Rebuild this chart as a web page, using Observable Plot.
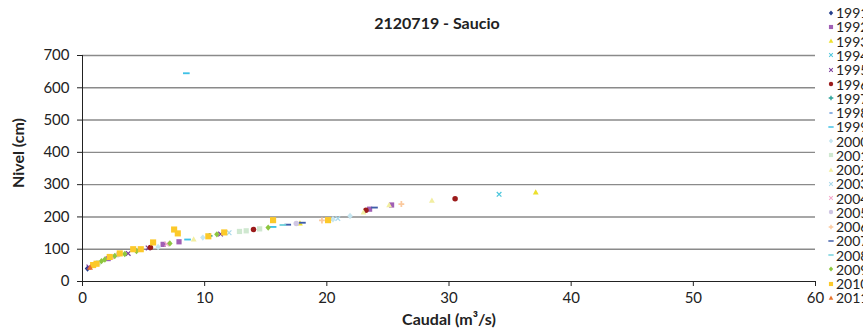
<!DOCTYPE html>
<html><head><meta charset="utf-8">
<script src="https://cdn.jsdelivr.net/npm/d3@7"></script>
<script src="https://cdn.jsdelivr.net/npm/@observablehq/plot@0.6"></script>
<style>
html,body{margin:0;padding:0;background:#fff;overflow:hidden;}
#wrap{position:relative;width:863px;height:336px;font-family:Lato,"Open Sans",sans-serif;color:#222;}
.lbl{position:absolute;font-weight:bold;white-space:nowrap;}
#legend{position:absolute;left:826px;top:0;font-size:14px;line-height:13px;}
.row{position:absolute;left:0;height:13px;white-space:nowrap;display:flex;align-items:center;}
</style></head><body><div id="wrap"></div>
<script>
const title = "2120719 - Saucio";
const xLabel = "Caudal (m³/s)";
const yLabel = "Nivel (cm)";
const xTicks = [0, 10, 20, 30, 40, 50, 60];
const yTicks = [0, 100, 200, 300, 400, 500, 600, 700];
const years = ["1991","1992","1993","1994","1995","1996","1997","1998","1999","2000","2001","2002","2003","2004","2005","2006","2007","2008","2009","2010","2011"];
const colors = ["#243e8c","#a05fb5","#ece02c","#4cc6dc","#7a3c9a","#9b1b1b","#2aa198","#5a8fd6","#3ec1e6","#c5e6f1","#cfe8d0","#f2eea0","#a8d8ea","#f4a7c9","#cfc6e3","#fbc99e","#3e5ca8","#72d1dc","#8dc63f","#fcc92a","#e8722a"];
const shapes = ["diamond","square","triangle","x","x","circle","plus","shortdash","dash","diamond","square","triangle","x","x","circle","plus","dash","dash","diamond","square","triangle"];

// data (parallel arrays)
const anio = [
"1991","1995","2001","2011",
"2010","2010","2010","2010","2010","2010","2010","2010","2010","2010","2010","2010",
"2009","2009","2009","2009","2009","2009","2009","2009",
"1992","1992","1992","1992","1992",
"1995","1995","1995",
"1996","1996","1996","1996",
"2000","2000","2000","2000",
"2003","2003",
"2001","2001","2001",
"2002","2002","2002","2002",
"1993","1993",
"1994",
"2006","2006",
"2005",
"2007","2007","2007",
"1998",
"1999","1999","1999",
"2008",
"1997","2004","2005","2004",
"2010"
];
const caudal = [
0.41,0.52,1.3,0.62,
0.87,1.15,2.23,3.05,4.15,4.77,5.78,7.5,7.8,11.6,15.6,10.3,
1.55,1.83,2.64,3.46,4.42,7.15,11.0,15.2,
2.1,6.6,7.9,23.5,25.3,
3.74,5.37,11.3,
5.56,14.0,23.2,30.5,
6.19,9.85,20.5,21.9,
12.0,20.9,
12.85,13.4,14.5,
9.1,23.0,25.1,28.6,
37.1,17.8,
34.1,
19.6,26.1,
17.5,
16.8,18.0,23.9,
20.2,
8.6,15.6,8.5,
16.4,
10.4,2.4,2.9,6.9,
20.1
];
const nivel = [
40,45,58,43,
51,55,76,87,100,100,121,161,149,152,190,140,
63,68,79,85,94,118,146,167,
71,115,123,224,237,
87,104,147,
105,161,221,256,
107,136,193,203,
151,195,
155,157,163,
131,214,237,251,
276,180,
270,
189,240,
180,
176,182,229,
190,
130,169,645,
175,
141,77,83,116,
190
];

function mk(kind){
  return {draw(ctx, size){
    const r = Math.sqrt(size/Math.PI);
    if(kind==="diamond"){ctx.moveTo(0,-r*1.1);ctx.lineTo(r*0.95,0);ctx.lineTo(0,r*1.1);ctx.lineTo(-r*0.95,0);ctx.closePath();}
    else if(kind==="square"){ctx.rect(-r*0.9,-r*0.9,r*1.8,r*1.8);}
    else if(kind==="triangle"){ctx.moveTo(0,-r*1.05);ctx.lineTo(r*1.0,r*0.75);ctx.lineTo(-r*1.0,r*0.75);ctx.closePath();}
    else if(kind==="circle"){ctx.moveTo(r*0.95,0);ctx.arc(0,0,r*0.95,0,2*Math.PI);}
    else if(kind==="plus"){const w=r*0.3;ctx.rect(-r,-w,2*r,2*w);ctx.rect(-w,-r,2*w,2*r);}
    else if(kind==="dash"){ctx.rect(-r*1.15,-r*0.32,r*2.3,r*0.64);}
    else if(kind==="shortdash"){ctx.rect(-r*0.7,-r*0.3,r*1.4,r*0.6);}
    else if(kind==="x"){const a=r*0.95,w=r*0.3;
      ctx.moveTo(-a,-a+w);ctx.lineTo(-a+w,-a);ctx.lineTo(a,a-w);ctx.lineTo(a-w,a);ctx.closePath();
      ctx.moveTo(a-w,-a);ctx.lineTo(a,-a+w);ctx.lineTo(-a+w,a);ctx.lineTo(-a,a-w);ctx.closePath();}
  }};
}
const syms = shapes.map(mk);

const rows = caudal.map((q,i)=>({q, n: nivel[i], y: anio[i]}));

const marks = [
  Plot.ruleY(yTicks.filter(d=>d>0), {stroke:"#8a8a8a", strokeWidth:1.4}),
  Plot.axisY({ticks: yTicks, tickSize:5, tickPadding:8, label:null, fontSize:15, color:"#222"}),
  Plot.axisX({ticks: xTicks, tickSize:5, tickPadding:6, label:null, fontSize:15, color:"#222"}),
  Plot.ruleY([0], {stroke:"#222"}),
  Plot.ruleX([0], {stroke:"#222"})
];
years.forEach((yr,i)=>{
  const d = rows.filter(r=>r.y===yr);
  if(d.length) marks.push(Plot.dot(d, {x:"q", y:"n", symbol: syms[i], fill: colors[i], stroke:"none", r: yr==="2010"?3.4:2.9}));
});

const chart = Plot.plot({
  width: 863, height: 336,
  marginLeft: 82, marginRight: 48, marginTop: 55, marginBottom: 55,
  style: {fontFamily: "Lato, 'Open Sans', sans-serif", fontSize: "15px", color: "#222", background:"#fff", overflow:"visible"},
  x: {domain: [0, 60]},
  y: {domain: [0, 700]},
  marks
});
const wrap = document.getElementById("wrap");
wrap.appendChild(chart);

function addLabel(text, css){
  const s = document.createElement("div");
  s.className = "lbl"; s.textContent = text; Object.assign(s.style, css); wrap.appendChild(s);
  return s;
}
addLabel(title, {left:"437px", top:"22px", transform:"translate(-50%,-50%)", fontSize:"16px"});
addLabel(xLabel, {left:"449px", top:"318px", transform:"translate(-50%,-50%)", fontSize:"16px"});
addLabel(yLabel, {left:"17px", top:"153px", transform:"translate(-50%,-50%) rotate(-90deg)", fontSize:"16px"});

const legend = document.createElement("div");
legend.id = "legend";
years.forEach((yr,i)=>{
  const row = document.createElement("div");
  row.className = "row";
  row.style.top = (12.7 + i*14.26 - 6.5) + "px";
  const p = d3.path(); syms[i].draw(p, 2.3*2.3*Math.PI);
  row.innerHTML = `<svg width="10" height="10" viewBox="-5 -5 10 10" style="margin-right:0px"><path d="${p.toString()}" fill="${colors[i]}"/></svg><span>${yr}</span>`;
  legend.appendChild(row);
});
wrap.appendChild(legend);
</script></body></html>
